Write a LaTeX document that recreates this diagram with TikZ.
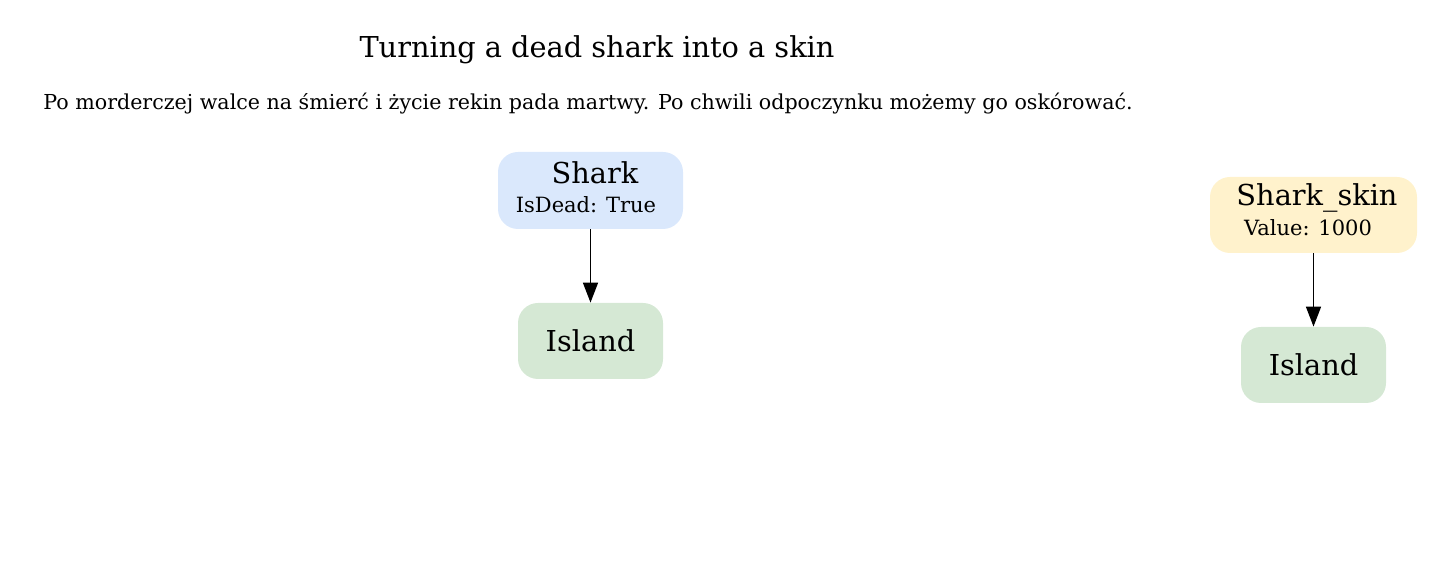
\documentclass[tikz,border=0pt]{standalone}
\usepackage{fontspec}
\setmainfont{DejaVu Serif}
\usetikzlibrary{arrows.meta}
\definecolor{sharkfill}{HTML}{DAE8FC}
\definecolor{skinfill}{HTML}{FFF2CC}
\definecolor{islandfill}{HTML}{D5E8D4}
\tikzset{
  box/.style={rounded corners=10pt, inner sep=0pt, align=center},
  bigtxt/.style={font=\fontsize{14.4}{16}\selectfont},
  smalltxt/.style={font=\fontsize{10.5}{12}\selectfont},
  conn/.style={-{Triangle[length=10pt,width=7.5pt]}, line width=0.8pt},
}
\begin{document}
\begin{tikzpicture}[x=0.5pt,y=-0.5pt]
\useasboundingbox (0,0) rectangle (1445,581);
\node[bigtxt] (title) at (597,50) {Turning a dead shark into a skin};
\node[font=\fontsize{10.3}{12}\selectfont] (sub) at (588,104) {Po morderczej walce na śmierć i życie rekin pada martwy. Po chwili odpoczynku możemy go oskórować.};
% Shark
\node[box, fill=sharkfill, minimum width=92.5pt, minimum height=38.5pt] (shark) at (590.5,190.5) {};
\node[bigtxt] (sharkt) at (595,173) {Shark};
\node[smalltxt] (sharkp) at (586,205) {IsDead: True};
\node[box, fill=islandfill, minimum width=72.5pt, minimum height=38pt, bigtxt] (isl1) at (590.5,341) {Island};
\draw[conn] (shark.south) -- (isl1.north);
% Shark skin
\node[box, fill=skinfill, minimum width=103.5pt, minimum height=38pt] (skin) at (1313.5,215) {};
\node[bigtxt] (skint) at (1317,198) {Shark\_skin};
\node[smalltxt] (skinp) at (1308,228) {Value: 1000};
\node[box, fill=islandfill, minimum width=72.5pt, minimum height=38pt, bigtxt] (isl2) at (1313.5,365) {Island};
\draw[conn] (skin.south) -- (isl2.north);
\end{tikzpicture}
\end{document}
